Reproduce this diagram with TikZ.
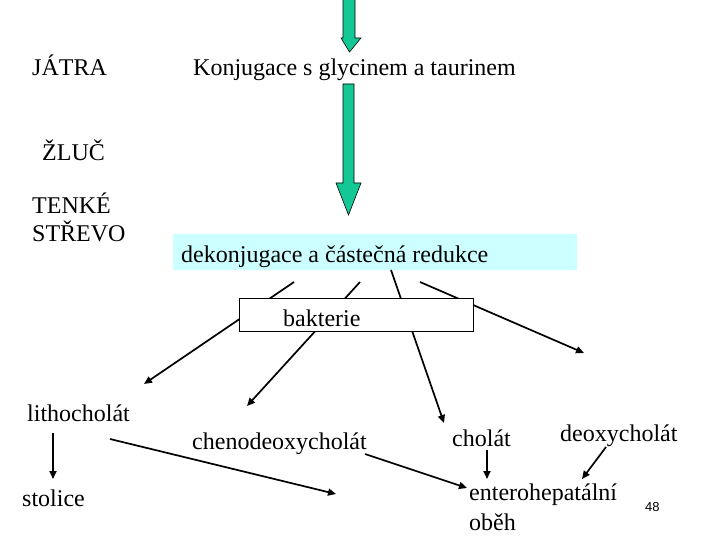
\documentclass[tikz,border=0pt]{standalone}
\usepackage{fontspec}
\setmainfont{Liberation Serif}
\newfontfamily\numfont{Liberation Sans}
\usetikzlibrary{arrows.meta}
\definecolor{teal1}{RGB}{20,200,150}
\definecolor{lcyan}{RGB}{204,255,255}
\tikzset{
  lbl/.style={anchor=base west,inner sep=0pt,font=\fontsize{24}{28}\selectfont},
  arr/.style={line width=1.7pt,-{Triangle[length=8pt,width=7pt]}},
  bigarr/.style={fill=teal1,draw=black,line width=0.6pt,line join=miter}
}
\begin{document}
\begin{tikzpicture}[x=1pt,y=-1pt]
\useasboundingbox (0,0) rectangle (720,540);
% big green arrows
\draw[bigarr] (343,-2) -- (355,-2) -- (355,38) -- (361,38) -- (349.5,52) -- (341,38) -- (343,38) -- cycle;
\draw[bigarr] (343,84) -- (354,84) -- (354,183) -- (361,183) -- (348.5,215) -- (336,183) -- (343,183) -- cycle;
% labels on left and top
\node[lbl] (jatra) at (32,76) {JÁTRA};
\node[lbl] (konj) at (193,76) {Konjugace s glycinem a taurinem};
\node[lbl] (zluc) at (42,161) {ŽLUČ};
\node[lbl] (tenke) at (32,214) {TENKÉ};
\node[lbl] (strevo) at (32,241) {STŘEVO};
% cyan box
\node[fill=lcyan,minimum width=404pt,minimum height=36pt,inner sep=0pt,anchor=north west] (dek) at (173,234) {};
\node[lbl] (dektext) at (181,262) {dekonjugace a částečná redukce};
% line start and end points
\coordinate (s1) at (294,282);
\coordinate (s2) at (360,282);
\coordinate (s3) at (391,270);
\coordinate (s4) at (420,282);
\coordinate (e1) at (144,384);
\coordinate (e2) at (247,406);
\coordinate (e3) at (444,423);
\coordinate (e4) at (584,353);
\draw[arr] (s1) -- (e1);
\draw[arr] (s2) -- (e2);
\draw[arr] (s3) -- (e3);
\draw[arr] (s4) -- (e4);
% bakterie box
\node[draw=black,fill=white,line width=1.2pt,minimum width=234pt,minimum height=33pt,inner sep=0pt,anchor=north west] (bakbox) at (239,298) {};
\node[lbl] (bak) at (283,326) {bakterie};
% bottom labels
\node[lbl] (litho) at (27,421) {lithocholát};
\node[lbl] (cheno) at (192,449) {chenodeoxycholát};
\node[lbl] (cholat) at (452,446) {cholát};
\node[lbl] (deoxy) at (560,441) {deoxycholát};
\node[lbl] (stolice) at (22,506) {stolice};
\node[lbl] (entero) at (469,500) {enterohepatální};
\node[lbl] (obeh) at (469,530) {oběh};
\node[anchor=base west,inner sep=0pt,font=\numfont\fontsize{13}{15}\selectfont] (num) at (645,511) {48};
% bottom arrows
\coordinate (a1s) at (53,433);
\coordinate (a1e) at (53,479);
\coordinate (a2s) at (110,439);
\coordinate (a2e) at (336,494);
\coordinate (a3s) at (365,454);
\coordinate (a3e) at (467,488);
\coordinate (a4s) at (487,450);
\coordinate (a4e) at (487,479);
\coordinate (a5s) at (606,447);
\coordinate (a5e) at (582,479);
\draw[arr] (a1s) -- (a1e);
\draw[arr] (a2s) -- (a2e);
\draw[arr] (a3s) -- (a3e);
\draw[arr] (a4s) -- (a4e);
\draw[arr] (a5s) -- (a5e);
\end{tikzpicture}
\end{document}
